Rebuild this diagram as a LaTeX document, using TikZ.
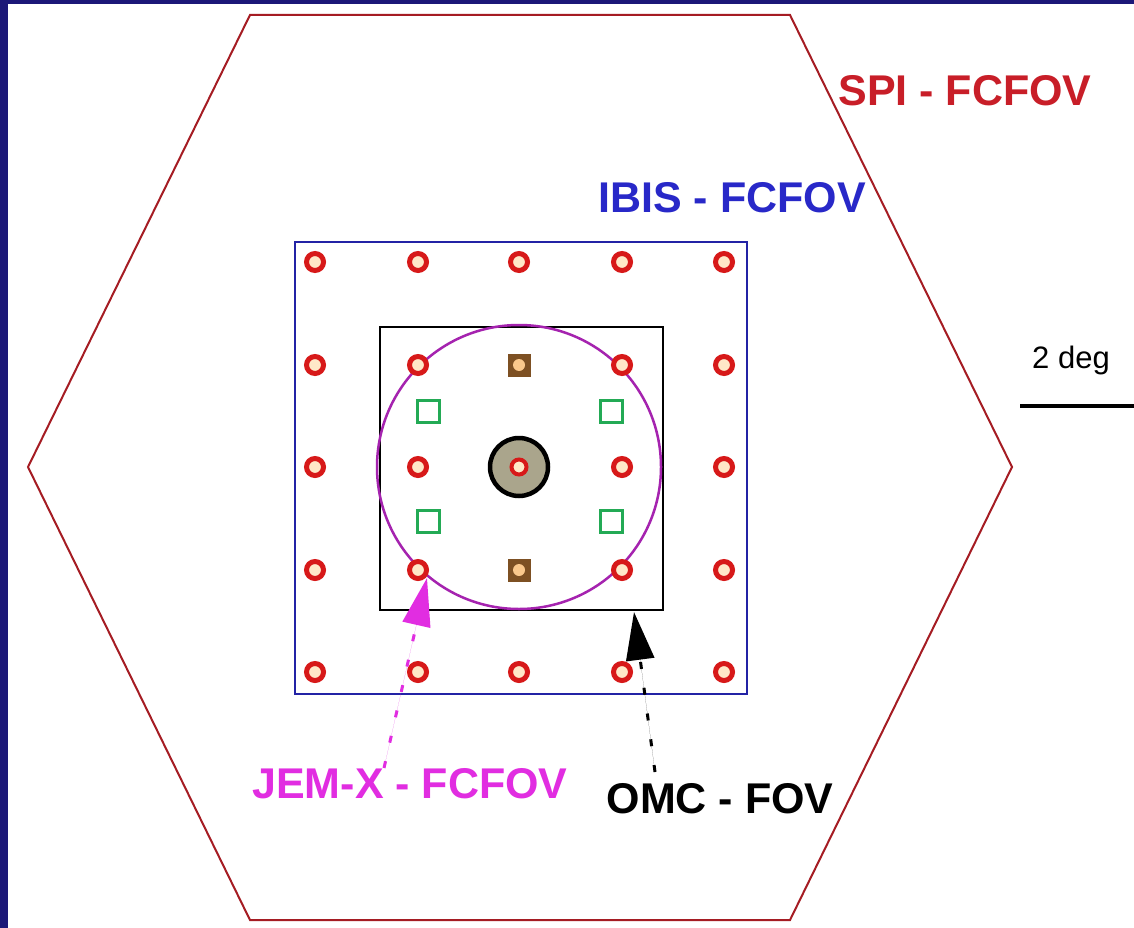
\documentclass[tikz,border=0pt]{standalone}
\usepackage{fontspec}
\setmainfont{Liberation Sans}
\usetikzlibrary{arrows.meta}

\definecolor{slidebg}{RGB}{28,24,120}
\definecolor{hexline}{RGB}{165,28,35}
\definecolor{spitext}{RGB}{200,30,40}
\definecolor{ibisline}{RGB}{35,35,165}
\definecolor{ibistext}{RGB}{40,40,200}
\definecolor{jemline}{RGB}{165,35,175}
\definecolor{jemtext}{RGB}{225,45,225}
\definecolor{detred}{RGB}{215,25,25}
\definecolor{detcore}{RGB}{255,232,200}
\definecolor{maskgreen}{RGB}{35,170,85}
\definecolor{maskbrown}{RGB}{125,80,35}
\definecolor{maskcore}{RGB}{250,200,140}
\definecolor{borefill}{RGB}{170,165,140}

\begin{document}
\begin{tikzpicture}[
    x=1pt, y=-1pt,
    every node/.style={font=\bfseries\fontsize{43}{43}\selectfont, inner sep=0pt},
    fovbox/.style={draw, line width=2pt, minimum size=#1, inner sep=0pt},
    spidet/.style={circle, draw=detred, line width=5pt, fill=detcore, minimum size=17pt},
    greensq/.style={draw=maskgreen, line width=3pt, minimum size=22pt},
    brownsq/.style={fill=maskbrown, minimum size=23pt},
    pointer/.style={line width=3pt, dash pattern=on 7pt off 19pt, -{Triangle[length=48pt, width=28pt]}},
]

% ── Slide frame ──────────────────────────────────────────────────────────────
\fill[slidebg] (0,0) rectangle (1134,928);
\fill[white] (8,4) rectangle (1134,928);
\useasboundingbox (0,0) rectangle (1134,928);

% ── SPI hexagon ──────────────────────────────────────────────────────────────
\coordinate (hexNW) at (250,15);
\coordinate (hexNE) at (790,15);
\coordinate (hexE)  at (1012,467);
\coordinate (hexSE) at (790,920);
\coordinate (hexSW) at (250,920);
\coordinate (hexW)  at (28,467);
\draw[hexline, line width=2pt] (hexNW) -- (hexNE) -- (hexE) -- (hexSE) -- (hexSW) -- (hexW) -- cycle;

% ── Instrument fields ────────────────────────────────────────────────────────
\node[fovbox=452pt, draw=ibisline] (ibis) at (521,468) {};
\node[fovbox=283pt, draw=black]    (omc)  at (521,468) {};
\node[circle, draw=jemline, line width=2.5pt, minimum size=284pt] (jemx) at (519,467) {};

% ── Pointing grid ────────────────────────────────────────────────────────────
\foreach \x in {315,418,519,622,724} {
  \node[spidet] (det-\x-top) at (\x,262) {};
  \node[spidet] (det-\x-bot) at (\x,672) {};
}
\foreach \y in {365,467,570}
  \foreach \x in {315,418,622,724}
    \node[spidet] (det-\x-\y) at (\x,\y) {};

\node[greensq] (gNW) at (428,411) {};
\node[greensq] (gNE) at (611,411) {};
\node[greensq] (gSW) at (428,521) {};
\node[greensq] (gSE) at (611,521) {};

\node[brownsq] (bN) at (519,365) {};
\node[brownsq] (bS) at (519,570) {};
\node[circle, fill=maskcore, minimum size=12pt] (bNdot) at (bN) {};
\node[circle, fill=maskcore, minimum size=12pt] (bSdot) at (bS) {};

\node[circle, draw=black, line width=4.5pt, fill=borefill, minimum size=58pt] (bore) at (519,467) {};
\node[spidet, line width=4pt, minimum size=15pt] (boredet) at (bore) {};

% ── Labels ───────────────────────────────────────────────────────────────────
\node[text=spitext]  (spilbl)  at (965,91)  {SPI - FCFOV};
\node[text=ibistext] (ibislbl) at (732,198) {IBIS - FCFOV};
\node[text=jemtext]  (jemlbl)  at (410,784) {JEM-X - FCFOV};
\node[text=black]    (omclbl)  at (720,799) {OMC - FOV};

% ── Scale bar ────────────────────────────────────────────────────────────────
\node[font=\fontsize{31}{31}\selectfont] (scalelbl) at (1071,360) {2 deg};
\coordinate (barL) at (1020,406);
\coordinate (barR) at (1134,406);
\draw[line width=4pt] (barL) -- (barR);

% ── Pointers ─────────────────────────────────────────────────────────────────
\coordinate (jemtail) at (384,768);
\coordinate (jemtip)  at (427,578);
\coordinate (omctail) at (655,772);
\coordinate (omctip)  at (634,612);
\draw[pointer, draw=jemtext, fill=jemtext] (jemtail) -- (jemtip);
\draw[pointer, draw=black, fill=black] (omctail) -- (omctip);

\end{tikzpicture}
\end{document}
